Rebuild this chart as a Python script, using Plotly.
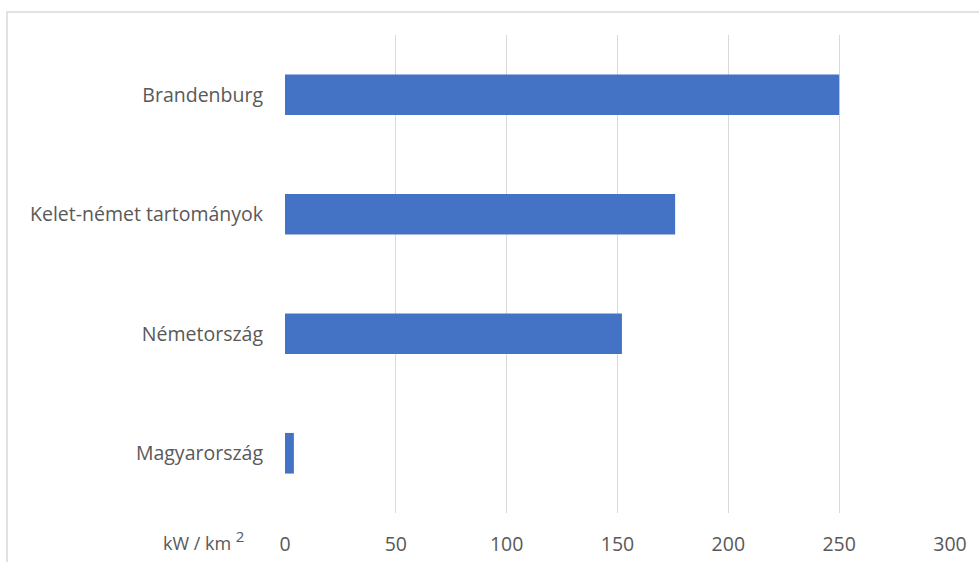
import plotly.graph_objects as go

categories = ["Magyarország", "Németország", "Kelet-német tartományok", "Brandenburg"]
values = [4, 152, 176, 250]
x_ticks = [0, 50, 100, 150, 200, 250, 300]
unit_label = "kW / km <sup><span style='font-size:15px'>2</span></sup>"

W, H = 979, 562
L, R, T, B = 285, 29, 35, 49
pw, ph = W - L - R, H - T - B

def px_to_paper_x(px):
    return (px - L) / pw

def px_to_paper_y(py):
    return (H - B - py) / ph

fig = go.Figure(go.Bar(
    y=categories, x=values, orientation="h",
    marker=dict(color="#4472C4", line=dict(width=0)),
    width=0.34,
))

font = dict(family="Open Sans, DejaVu Sans, sans-serif", size=19.5, color="#595959")

fig.update_layout(
    width=W, height=H,
    margin=dict(l=L, r=R, t=T, b=B, autoexpand=False),
    paper_bgcolor="white", plot_bgcolor="white",
    font=font,
    showlegend=False,
    bargap=0.66,
    xaxis=dict(range=[0, 300], tickvals=x_ticks, showgrid=True, gridcolor="#d9d9d9",
               gridwidth=1, zeroline=False, showline=False, ticks="",
               ticklabelstandoff=17, automargin=False, fixedrange=True),
    yaxis=dict(showgrid=False, zeroline=False, showline=False, ticks="",
               ticklabelstandoff=21, automargin=False, fixedrange=True),
    shapes=[dict(type="rect", xref="paper", yref="paper",
                 x0=px_to_paper_x(7), x1=px_to_paper_x(1000),
                 y0=px_to_paper_y(600), y1=px_to_paper_y(12),
                 line=dict(color="#d9d9d9", width=1.5), fillcolor="rgba(0,0,0,0)",
                 layer="below")],
    annotations=[dict(text=unit_label, xref="paper", yref="paper",
                      x=px_to_paper_x(246), y=px_to_paper_y(540),
                      xanchor="right", yanchor="middle", showarrow=False,
                      font=dict(family="Open Sans, DejaVu Sans, sans-serif", size=18, color="#595959"))],
)

fig.write_html("out.html")
